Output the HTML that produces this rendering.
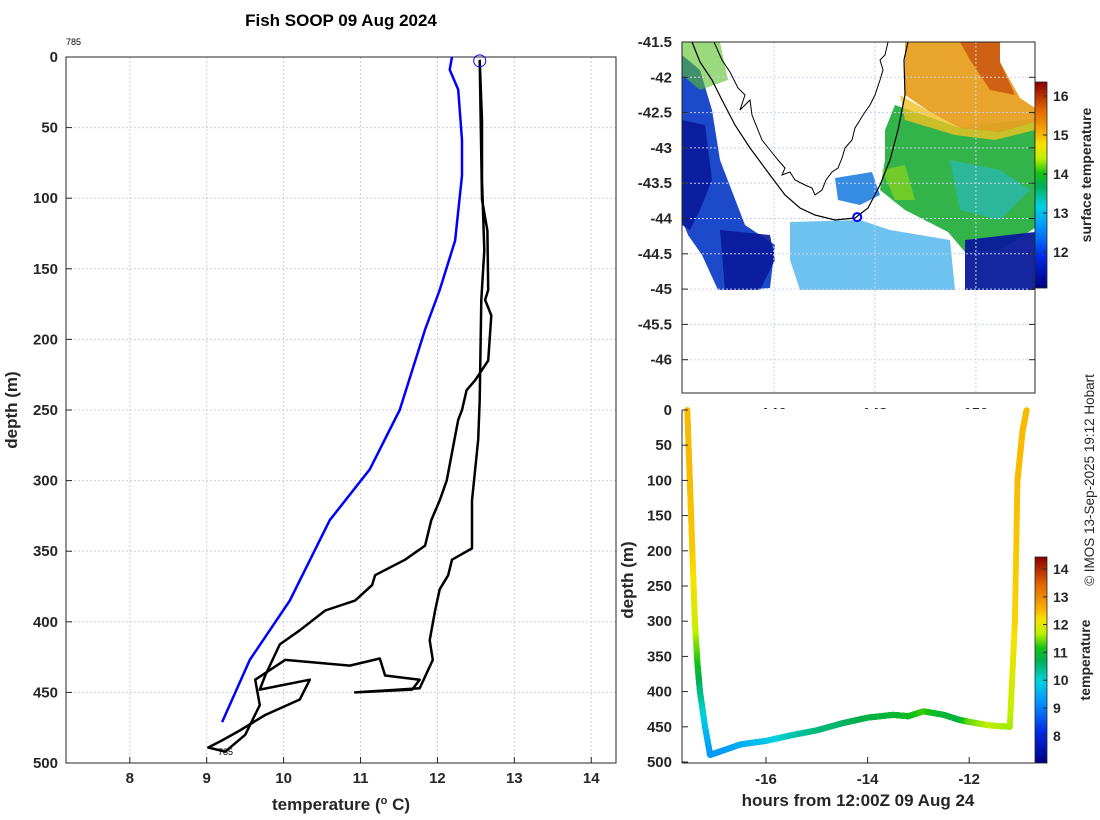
<!DOCTYPE html>
<html><head><meta charset="utf-8"><style>
html,body{margin:0;padding:0;background:#fff;}
svg{display:block;font-family:"Liberation Sans","DejaVu Sans",sans-serif;}
.tk{font-size:15px;font-weight:bold;fill:#262626;}
.lb{font-size:17px;font-weight:bold;fill:#262626;}
</style></head><body>
<svg id="fig" width="1100" height="820" viewBox="0 0 1100 820" xmlns="http://www.w3.org/2000/svg">
<rect width="1100" height="820" fill="#fff"/>
<text x="341" y="26" text-anchor="middle" style="font-size:17px;font-weight:bold" fill="#000">Fish SOOP 09 Aug 2024</text>
<g id="left"></g>
<g id="map"></g>
<g id="sect"></g>
<text transform="translate(1094,480) rotate(-90)" text-anchor="middle" style="font-size:13.5px" fill="#262626">© IMOS 13-Sep-2025 19:12 Hobart</text>
</svg>
<script>
// ---------- data ----------
const tempTicks = [8,9,10,11,12,13,14];
const depthTicks = [0,50,100,150,200,250,300,350,400,450,500];
const climTemp = [12.19,12.16,12.27,12.32,12.32,12.23,12.03,11.84,11.51,11.12,10.6,10.08,9.56,9.2];
const climDepth = [0,9,23,59,84,130,165,193,250,292,328,385,427,471];
const castTemp = [12.55,12.58,12.65,12.66,12.62,12.70,12.66,12.49,12.38,12.32,12.27,12.12,12.03,11.92,11.84,11.58,11.19,11.15,10.93,10.54,10.21,9.95,9.76,9.69,10.34,10.21,9.76,9.43,9.20,9.02,9.24,9.50,9.69,9.63,10.02,10.86,11.25,11.32,11.77,11.67,10.93,11.77,11.94,11.90,11.97,12.03,12.14,12.19,12.45,12.45,12.53,12.55,12.57,12.61,12.58,12.58,12.55];
const castDepth = [2,101,123,165,172,183,215,229,236,250,257,300,314,328,346,356,367,374,385,392,406,416,438,448,441,455,466,477,484,489,492,480,459,441,427,431,426,438,441,448,450,447,427,413,392,377,367,356,348,314,271,243,172,137,87,45,2];
const latTicks = [-41.5,-42,-42.5,-43,-43.5,-44,-44.5,-45,-45.5,-46];
const lonTicks = [146,148,150];
const sstTicks = [12,13,14,15,16];
const secHours = [-17.55,-17.5,-17.45,-17.4,-17.35,-17.3,-17.2,-17.1,-16.9,-16.5,-16,-15.5,-15,-14.5,-14,-13.5,-13.2,-12.9,-12.5,-12.2,-12,-11.6,-11.2,-11.1,-11.05,-10.95,-10.87];
const secDepth = [0,100,200,300,360,400,450,490,485,475,470,462,455,445,437,433,435,428,433,440,443,448,450,300,100,30,0];
const secTemp = [12.5,12.5,12.4,11.9,11.2,10.5,9.8,9.3,9.3,9.5,9.8,10.2,10.5,10.6,10.8,10.9,11.0,11.3,10.9,10.8,11.4,11.7,11.6,12.3,12.5,12.5,12.5];
const secHourTicks = [-16,-14,-12];
const secTempTicks = [8,9,10,11,12,13,14];

// ---------- helpers ----------
const NS="http://www.w3.org/2000/svg";
function mk(parent,tag,attrs,txt){const e=document.createElementNS(NS,tag);for(const k in attrs)e.setAttribute(k,attrs[k]);if(txt!==undefined)e.textContent=txt;parent.appendChild(e);return e;}
const cmapStops=[[0,[0,0,128]],[0.15,[0,40,230]],[0.3,[0,150,255]],[0.4,[0,210,225]],[0.5,[0,175,80]],[0.56,[20,195,20]],[0.63,[190,240,0]],[0.7,[248,225,0]],[0.76,[248,168,0]],[0.87,[225,100,0]],[1,[140,0,0]]];
function jet(v){v=Math.max(0,Math.min(1,v));for(let i=1;i<cmapStops.length;i++){if(v<=cmapStops[i][0]){const a=cmapStops[i-1],b=cmapStops[i],f=(v-a[0])/(b[0]-a[0]);const c=a[1].map((x,k)=>Math.round(x+(b[1][k]-x)*f));return `rgb(${c[0]},${c[1]},${c[2]})`;}}return 'rgb(140,0,0)';}

// ---------- left profile ----------
const L=document.getElementById('left');
const lx=t=>66+(t-7.17)*76.9, ly=d=>57+d*1.412;
tempTicks.forEach(t=>{const g=mk(L,'line',{x1:lx(t),x2:lx(t),y1:57,y2:763,stroke:'#d8cfc4','stroke-dasharray':'2,2'});});
depthTicks.forEach(d=>{const g=mk(L,'line',{x1:66,x2:616,y1:ly(d),y2:ly(d),stroke:'#c8d0ee','stroke-dasharray':'2,2'});});
let fr=mk(L,'rect',{x:66,y:57,width:550,height:706,fill:'none',stroke:'#262626','stroke-width':1});

tempTicks.forEach(t=>{mk(L,'line',{x1:lx(t),x2:lx(t),y1:763,y2:757,stroke:'#262626'});
 const e=mk(L,'text',{x:lx(t),y:783,'text-anchor':'middle',class:'tk'},String(t));});
depthTicks.forEach(d=>{mk(L,'line',{x1:66,x2:72,y1:ly(d),y2:ly(d),stroke:'#262626'});
 const e=mk(L,'text',{x:58,y:ly(d)+5,'text-anchor':'end',class:'tk'},String(d));});
let e=mk(L,'text',{x:341,y:810,'text-anchor':'middle',class:'lb'});e.innerHTML='temperature (<tspan dy="-6" style="font-size:11px">o</tspan><tspan dy="6"> C)</tspan>';

e=mk(L,'text',{transform:'translate(17,410) rotate(-90)','text-anchor':'middle',class:'lb'},'depth (m)');

e=mk(L,'path',{d:climTemp.map((t,i)=>(i?'L':'M')+lx(t).toFixed(1)+','+ly(climDepth[i]).toFixed(1)).join(''),fill:'none',stroke:'#0000ff','stroke-width':2.5});

e=mk(L,'path',{d:castTemp.map((t,i)=>(i?'L':'M')+lx(t).toFixed(1)+','+ly(castDepth[i]).toFixed(1)).join(''),fill:'none',stroke:'#000','stroke-width':2.5,'stroke-linejoin':'round'});

e=mk(L,'circle',{cx:lx(castTemp[0]),cy:ly(castDepth[0])+1,r:6,fill:'none',stroke:'#0000ff','stroke-width':1});

e=mk(L,'text',{x:66,y:45,style:'font-size:9px'},'785');
e=mk(L,'text',{x:218,y:755,style:'font-size:9px'},'785');

// ---------- map ----------
const M=document.getElementById('map');
const mx=lon=>682+(lon-144.18)*50.5, my=lat=>42+(-41.5-lat)*70.6;
const regions=[
 ['#1040c8','682,55 700,70 712,110 720,160 745,225 775,245 770,288 735,290 718,290 702,255 688,235 682,220',0.95],
 ['#0a1a9a','682,120 705,125 712,180 700,210 690,230 682,225',0.9],
 ['#0a1a9a','720,230 770,235 775,260 760,290 725,290',0.9],
 ['#30a8e8','790,222 860,220 890,230 950,240 955,290 800,290 790,260',0.7],
 ['#2080e0','835,178 872,172 880,195 860,205 838,200',0.9],
 ['#28b040','895,105 960,128 1035,118 1035,228 1000,250 965,252 948,232 905,210 880,190 885,160 885,130',0.95],
 ['#80d020','882,170 905,165 915,200 895,200',0.8],
 ['#e8a020','905,42 1000,42 1000,62 1020,98 1035,108 1035,122 1000,132 960,128 930,112 905,95',0.95],
 ['#c85010','960,42 1000,42 1000,62 1015,95 990,90 970,60',0.8],
 ['#f0c020','900,95 930,112 960,128 1000,132 1035,122 1035,130 995,140 955,135 905,120',0.8],
 ['#0a1a9a','965,240 1035,232 1035,290 965,290',0.95],
 ['#28b8d0','950,160 1000,170 1030,190 1000,220 960,210',0.6],
 ['#58c028','682,42 720,42 728,80 700,90 682,75',0.6]
];
regions.forEach(r=>{const p=mk(M,'polygon',{points:r[1],fill:r[0],opacity:r[2]});});
latTicks.forEach(l=>{mk(M,'line',{x1:682,x2:1035,y1:my(l),y2:my(l),stroke:'#c8d0ee','stroke-dasharray':'2,2'});});
lonTicks.forEach(l=>{mk(M,'line',{x1:mx(l),x2:mx(l),y1:42,y2:393,stroke:'#c8d0ee','stroke-dasharray':'2,2'});});
e=mk(M,'path',{d:'M692,42 L700,62 L712,80 L722,100 L735,125 L750,148 L770,175 L785,195 L800,208 L815,215 L835,220 L855,218 L868,208 L880,185 L890,160 L898,130 L905,95 L904,60 L908,42',fill:'none',stroke:'#000','stroke-width':1.2});

e=mk(M,'path',{d:'M714,42 L722,60 L730,72 L738,88 L745,95 L740,110 L750,100 L752,115 L758,130 L762,140 L770,150 L778,160 L785,168 L782,175 L790,172 L795,180 L805,185 L812,188 L815,195 L822,190 L826,180 L832,172 L838,168 L842,158 L845,148 L852,140 L855,128 L860,120 L865,112 L870,105 L875,95 L880,80 L883,70 L880,60 L885,55 L888,42',fill:'none',stroke:'#000','stroke-width':1});

e=mk(M,'circle',{cx:mx(147.65),cy:my(-43.98),r:4,fill:'none',stroke:'#0000ff','stroke-width':2});

e=mk(M,'rect',{x:682,y:42,width:353,height:351,fill:'none',stroke:'#262626'});

latTicks.forEach(l=>{mk(M,'line',{x1:682,x2:688,y1:my(l),y2:my(l),stroke:'#262626'});mk(M,'line',{x1:1035,x2:1029,y1:my(l),y2:my(l),stroke:'#262626'});
 const t=mk(M,'text',{x:672,y:my(l)+5,'text-anchor':'end',class:'tk'},String(l));});
lonTicks.forEach(l=>{const t=mk(M,'text',{x:mx(l),y:418,'text-anchor':'middle',class:'tk'},String(l));});
// map colorbar
const cbY=v=>96+(16-v)*39;
for(let y=82;y<288;y++){const v=16.36-(y-82)/39;mk(M,'rect',{x:1035,y:y,width:12,height:1.2,fill:jet((v-11.08)/(16.36-11.08))});}
e=mk(M,'rect',{x:1035,y:82,width:12,height:206,fill:'none',stroke:'#262626','stroke-width':0.8});

sstTicks.forEach(v=>{mk(M,'line',{x1:1043,x2:1047,y1:cbY(v),y2:cbY(v),stroke:'#262626'});
 const t=mk(M,'text',{x:1053,y:cbY(v)+5,class:'tk',style:'font-size:14px'},String(v));});
e=mk(M,'text',{transform:'translate(1091,175) rotate(-90)','text-anchor':'middle',class:'tk',style:'font-size:14px'},'surface temperature');


// ---------- section ----------
const S=document.getElementById('sect');
mk(S,'rect',{x:682,y:409,width:353,height:354,fill:'#fff'});
const sx=h=>766+(h+16)*50.8, sy=d=>410+d*0.704;
const ctY=v=>569+(14-v)*27.8;
const tcol=v=>jet((v-7.02)/(14.43-7.02));
for(let i=0;i<secHours.length-1;i++){
 const n=80;for(let k=0;k<n;k++){const f=k/n;
  const h=secHours[i]+(secHours[i+1]-secHours[i])*f,d=secDepth[i]+(secDepth[i+1]-secDepth[i])*f,t=secTemp[i]+(secTemp[i+1]-secTemp[i])*f;
  const c=mk(S,'circle',{cx:sx(h).toFixed(1),cy:sy(d).toFixed(1),r:3,fill:tcol(t)});
  
  }}
mk(S,'line',{x1:682,x2:682,y1:410,y2:763,stroke:'#262626'});
mk(S,'line',{x1:682,x2:1035,y1:763,y2:763,stroke:'#262626'});
depthTicks.forEach(d=>{mk(S,'line',{x1:682,x2:688,y1:sy(d),y2:sy(d),stroke:'#262626'});
 const t=mk(S,'text',{x:672,y:sy(d)+5,'text-anchor':'end',class:'tk'},String(d));});
secHourTicks.forEach(h=>{mk(S,'line',{x1:sx(h),x2:sx(h),y1:763,y2:757,stroke:'#262626'});
 const t=mk(S,'text',{x:sx(h),y:784,'text-anchor':'middle',class:'tk'},String(h));});
e=mk(S,'text',{x:858,y:806,'text-anchor':'middle',class:'lb'},'hours from 12:00Z 09 Aug 24');

e=mk(S,'text',{transform:'translate(633,580) rotate(-90)','text-anchor':'middle',class:'lb'},'depth (m)');

for(let y=557;y<763;y++){const v=14.43-(y-557)/27.8;mk(S,'rect',{x:1035,y:y,width:12,height:1.2,fill:tcol(v)});}
e=mk(S,'rect',{x:1035,y:557,width:12,height:206,fill:'none',stroke:'#262626','stroke-width':0.8});

secTempTicks.forEach(v=>{mk(S,'line',{x1:1043,x2:1047,y1:ctY(v),y2:ctY(v),stroke:'#262626'});
 const t=mk(S,'text',{x:1053,y:ctY(v)+5,class:'tk',style:'font-size:14px'},String(v));});
e=mk(S,'text',{transform:'translate(1090,660) rotate(-90)','text-anchor':'middle',class:'tk',style:'font-size:14px'},'temperature');

</script>
</body></html>
